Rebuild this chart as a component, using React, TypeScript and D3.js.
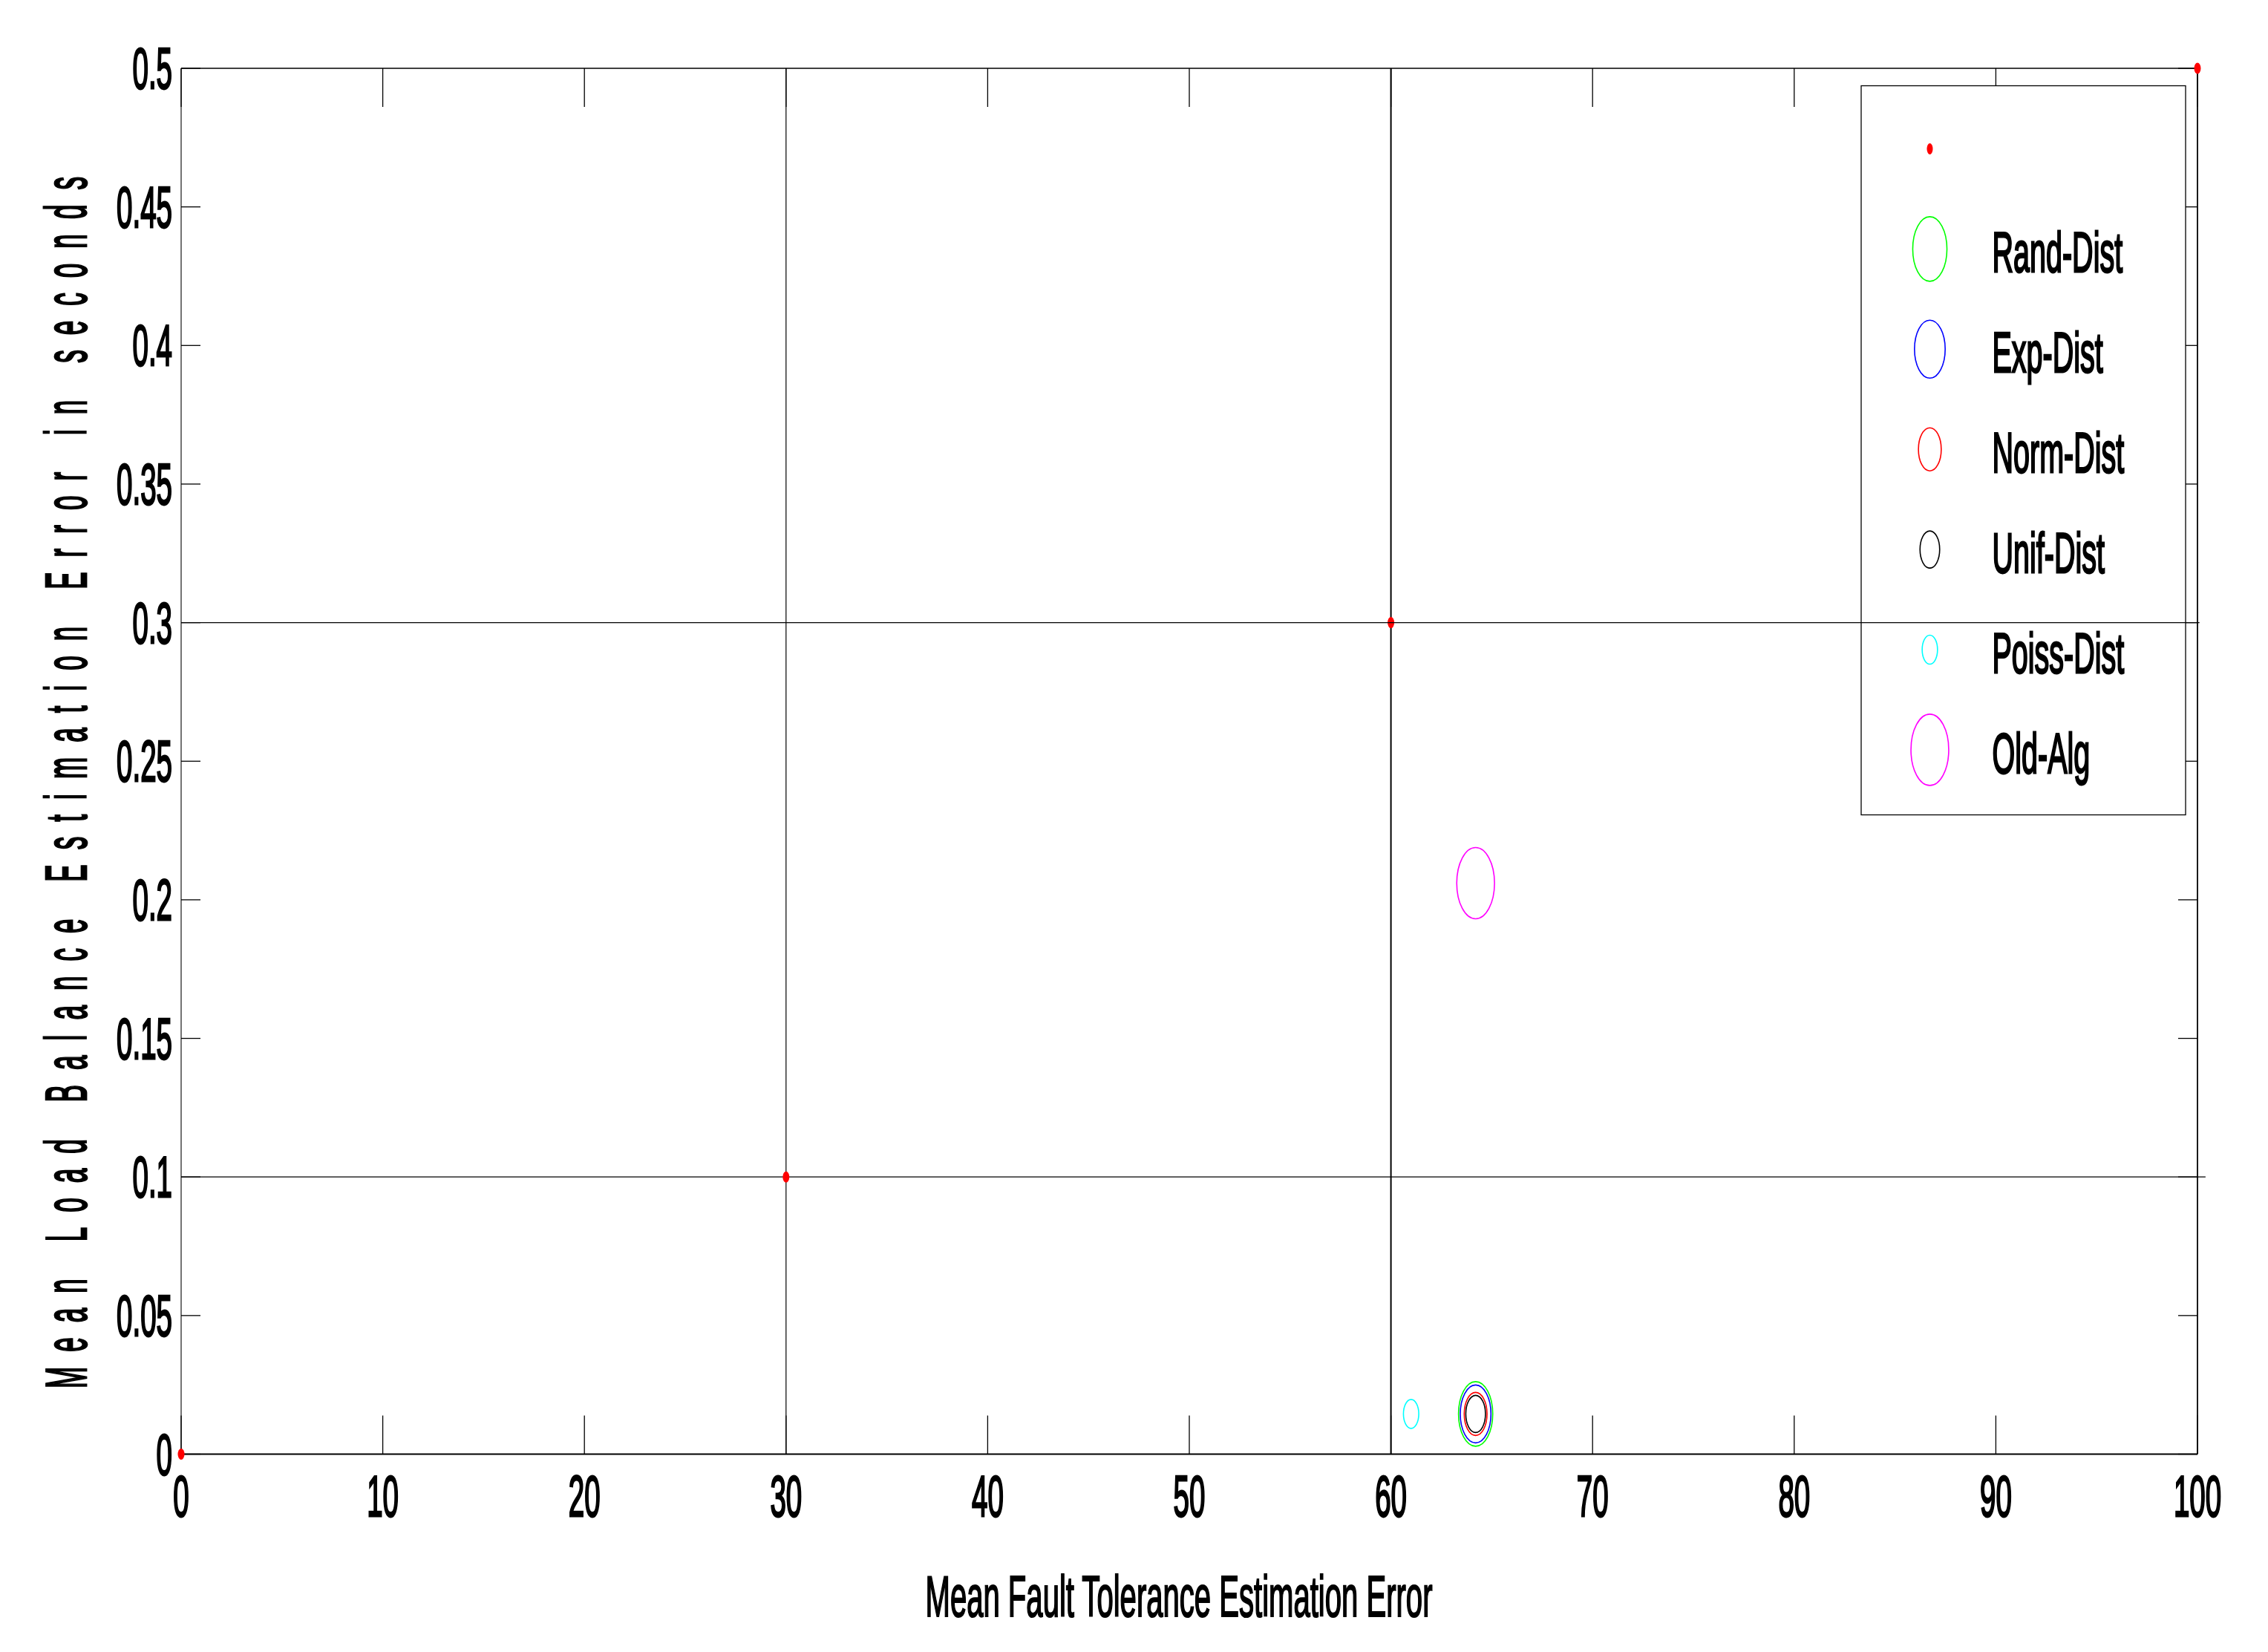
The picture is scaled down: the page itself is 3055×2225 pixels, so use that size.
import React from 'react';
import * as d3 from 'd3';

// ---- data ----
const seriesNames = ['Rand-Dist', 'Exp-Dist', 'Norm-Dist', 'Unif-Dist', 'Poiss-Dist', 'Old-Alg'];
const seriesX = [64.2, 64.2, 64.2, 64.2, 61.0, 64.2];
const seriesY = [0.0145, 0.0145, 0.0145, 0.0145, 0.0145, 0.206];
const dotX = [0, 30, 60, 100];
const dotY = [0, 0.1, 0.3, 0.5];
const guideX = [30, 60];
const guideY = [0.1, 0.3];
const xTicks = [0, 10, 20, 30, 40, 50, 60, 70, 80, 90, 100];
const yTicks = [0, 0.05, 0.1, 0.15, 0.2, 0.25, 0.3, 0.35, 0.4, 0.45, 0.5];
const yTickLabels = ['0', '0.05', '0.1', '0.15', '0.2', '0.25', '0.3', '0.35', '0.4', '0.45', '0.5'];
const xLabel = 'Mean Fault Tolerance Estimation Error';
const yLabel = 'Mean Load Balance Estimation Error in seconds';

// ---- styles ----
const seriesColors = ['#00ff00', '#0000ff', '#ff0000', '#000000', '#00ffff', '#ff00ff'];
const markerH = [87, 78, 58, 50, 39, 96];
const ASPECT = 0.53;
const TXT = 0.5;
const FONT = '"Liberation Sans", Arial, Helvetica, sans-serif';
const bold = { stroke: '#000', strokeWidth: 2.2, vectorEffect: 'non-scaling-stroke' as const, paintOrder: 'stroke' as const };

export default function App() {
  const W = 3055, H = 2225;
  const left = 244, right = 2960, top = 92, bottom = 1958.5;
  const x = d3.scaleLinear().domain([0, 100]).range([left, right]);
  const y = d3.scaleLinear().domain([0, 0.5]).range([bottom, top]);

  const fs = 77;
  const legX = 2507, legY = 115.5, legW = 437, legH = 982;
  const legMarkerX = 2599.5, legTextX = 2683.5;
  const rowY = (i: number) => 200.5 + 134.9 * i;

  return (
    <svg width={W} height={H} style={{ position: 'absolute', left: 0, top: 0, background: '#fff' }}
      fontFamily={FONT}>
      <rect x={0} y={0} width={W} height={H} fill="#fff" />
      {/* guide lines */}
      <line x1={x(guideX[0])} x2={x(guideX[0])} y1={top} y2={bottom} stroke="#000" strokeWidth={1.2} />
      <line x1={x(guideX[1])} x2={x(guideX[1])} y1={top} y2={bottom} stroke="#000" strokeWidth={2} />
      <line x1={left} x2={x(100.4)} y1={y(guideY[0])} y2={y(guideY[0])} stroke="#000" strokeWidth={1.3} />

      {/* axes box */}
      <line x1={left} x2={right} y1={top} y2={top} stroke="#000" strokeWidth={1.5} />
      <line x1={left} x2={right} y1={bottom} y2={bottom} stroke="#000" strokeWidth={1.8} />
      <line x1={left} x2={left} y1={top} y2={bottom} stroke="#000" strokeWidth={1.1} />
      <line x1={right} x2={right} y1={top} y2={bottom} stroke="#000" strokeWidth={1.8} />

      {/* ticks */}
      {xTicks.map((t) => (
        <g key={'xt' + t}>
          <line x1={x(t)} x2={x(t)} y1={bottom} y2={bottom - 52} stroke="#000" strokeWidth={1.3} />
          <line x1={x(t)} x2={x(t)} y1={top} y2={top + 52} stroke="#000" strokeWidth={1.3} />
          <text transform={`translate(${x(t)},2042) scale(${TXT},1)`} textAnchor="middle" fontSize={fs} {...bold}>{String(t)}</text>
        </g>
      ))}
      {yTicks.map((t, i) => (
        <g key={'yt' + i}>
          <line x1={left} x2={left + 26} y1={y(t)} y2={y(t)} stroke="#000" strokeWidth={1.3} />
          <line x1={right} x2={right - 26} y1={y(t)} y2={y(t)} stroke="#000" strokeWidth={1.3} />
          <text transform={`translate(232,${y(t) + 27}) scale(${TXT},1)`} textAnchor="end" fontSize={fs} {...bold}>{yTickLabels[i]}</text>
        </g>
      ))}

      {/* axis labels */}
      <text x={1588} y={2177} textAnchor="middle" fontSize={78} textLength={683} lengthAdjust="spacingAndGlyphs" {...bold}>{xLabel}</text>
      <text transform={`translate(116,1054) rotate(-90) scale(0.45,1)`} textAnchor="middle" fontSize={78}
        textLength={1632 / 0.45} lengthAdjust="spacing" {...bold}>{yLabel}</text>

      {/* red dots */}
      {dotX.map((d, i) => (
        <ellipse key={'d' + i} cx={x(d)} cy={y(dotY[i])} rx={4.5} ry={7.5} fill="#ff0000" />
      ))}

      {/* series markers */}
      {seriesNames.map((n, i) => (
        <ellipse key={'m' + n} cx={x(seriesX[i])} cy={y(seriesY[i])} rx={(markerH[i] / 2) * ASPECT} ry={markerH[i] / 2}
          fill="none" stroke={seriesColors[i]} strokeWidth={1.6} />
      ))}

      {/* legend */}
      <rect x={legX} y={legY} width={legW} height={legH} fill="#fff" stroke="#000" strokeWidth={1.3} />
      <ellipse cx={legMarkerX} cy={rowY(0)} rx={4} ry={7.5} fill="#ff0000" />
      {seriesNames.map((n, i) => (
        <g key={'l' + n}>
          <ellipse cx={legMarkerX} cy={rowY(i + 1)} rx={(markerH[i] / 2) * ASPECT} ry={markerH[i] / 2}
            fill="none" stroke={seriesColors[i]} strokeWidth={1.6} />
          <text transform={`translate(${legTextX},${rowY(i + 1) + 31}) scale(0.52,1)`} fontSize={76} {...bold}>{n}</text>
        </g>
      ))}

      {/* horizontal guide drawn over the legend */}
      <line x1={left} x2={x(100.1)} y1={y(guideY[1])} y2={y(guideY[1])} stroke="#000" strokeWidth={1.3} />
    </svg>
  );
}
